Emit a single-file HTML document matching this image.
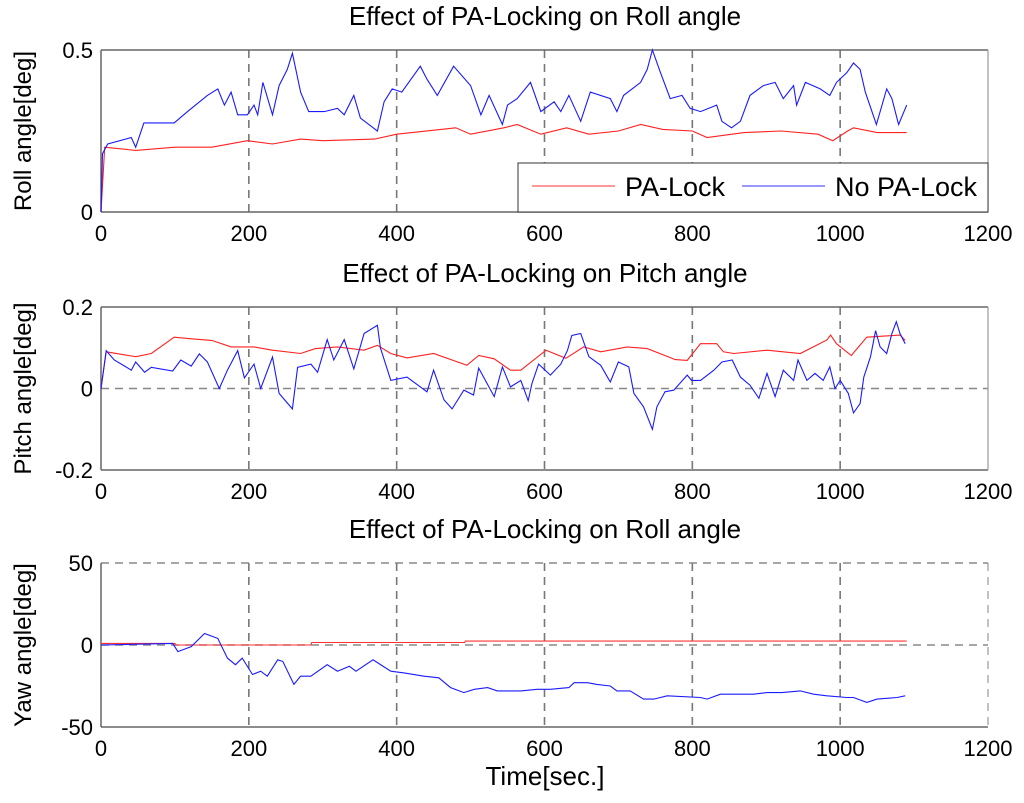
<!DOCTYPE html>
<html><head><meta charset="utf-8"><style>
html,body{margin:0;padding:0;background:#fff;}
svg{display:block;font-family:"Liberation Sans",Arial,sans-serif;}
</style></head><body>
<svg id="fig" width="1024" height="803" viewBox="0 0 1024 803"></svg>
<script>
// ---- data ----
const rollT_blue=[0,2,9,41,47,58,99,117,144,158,167,176,185,198,207,212,219,232,241,252,259,270,281,302,320,329,342,351,374,383,394,407,432,441,455,477,500,514,525,543,550,563,581,595,613,622,633,649,662,689,698,707,730,739,746,757,770,786,797,811,833,840,853,865,878,896,912,923,937,941,953,973,986,995,1009,1018,1027,1034,1049,1063,1070,1079,1090];
const rollV_blue=[0,0.18,0.21,0.23,0.20,0.275,0.275,0.31,0.36,0.38,0.33,0.37,0.30,0.30,0.33,0.30,0.40,0.30,0.39,0.44,0.49,0.37,0.31,0.31,0.32,0.30,0.36,0.29,0.25,0.34,0.38,0.37,0.45,0.41,0.36,0.45,0.39,0.30,0.36,0.27,0.33,0.35,0.40,0.31,0.34,0.31,0.36,0.28,0.37,0.35,0.31,0.36,0.40,0.44,0.50,0.43,0.35,0.36,0.32,0.31,0.33,0.28,0.26,0.28,0.36,0.39,0.40,0.35,0.39,0.33,0.40,0.38,0.36,0.40,0.43,0.46,0.44,0.37,0.27,0.38,0.35,0.27,0.33];
const rollT_red=[0,5,47,100,150,198,232,270,300,370,400,480,500,545,563,595,630,660,700,730,760,800,820,870,920,970,990,1010,1018,1050,1090];
const rollV_red=[0,0.2,0.19,0.2,0.2,0.22,0.21,0.225,0.22,0.225,0.24,0.26,0.24,0.26,0.27,0.24,0.26,0.24,0.25,0.27,0.255,0.25,0.23,0.245,0.25,0.24,0.22,0.25,0.26,0.245,0.245];
const pitchT_blue=[0,7,18,32,41,47,59,68,97,108,122,133,144,160,171,185,194,207,216,232,241,259,266,284,293,306,315,329,342,356,374,378,392,414,441,450,464,475,491,504,511,532,543,554,568,578,583,592,608,622,631,637,649,660,676,689,700,714,721,734,746,752,763,775,793,799,811,829,840,854,865,878,890,901,912,923,937,943,955,966,977,986,993,1000,1011,1018,1027,1032,1041,1048,1054,1063,1070,1076,1081,1088];
const pitchV_blue=[0,0.093,0.07,0.055,0.045,0.065,0.04,0.052,0.043,0.07,0.055,0.085,0.065,0.0,0.045,0.093,0.026,0.06,0.0,0.077,-0.012,-0.05,0.052,0.06,0.04,0.12,0.07,0.12,0.048,0.135,0.155,0.1,0.02,0.028,-0.008,0.045,-0.028,-0.05,-0.004,-0.016,0.05,-0.02,0.053,0.004,0.02,-0.03,0.012,0.06,0.033,0.06,0.093,0.13,0.135,0.078,0.057,0.016,0.065,0.053,-0.012,-0.045,-0.1,-0.045,-0.008,-0.004,0.033,0.02,0.02,0.045,0.065,0.07,0.028,0.008,-0.024,0.037,-0.02,0.045,0.02,0.07,0.02,0.037,0.02,0.053,0.0,0.02,-0.012,-0.06,-0.037,0.028,0.078,0.142,0.102,0.086,0.135,0.164,0.135,0.11];
const pitchT_red=[0,7,47,68,99,122,150,176,207,232,270,290,320,356,374,392,414,450,495,511,532,554,568,602,629,653,676,712,739,777,793,811,833,842,856,901,946,982,987,995,1015,1036,1081,1088];
const pitchV_red=[0,0.09,0.078,0.086,0.126,0.122,0.118,0.102,0.102,0.094,0.086,0.098,0.102,0.094,0.106,0.086,0.075,0.086,0.057,0.081,0.073,0.045,0.045,0.094,0.074,0.102,0.090,0.102,0.098,0.071,0.069,0.110,0.110,0.090,0.086,0.094,0.086,0.119,0.131,0.110,0.081,0.126,0.131,0.118];
const yawT_blue=[0,97,104,122,140,158,171,182,191,205,216,225,239,246,261,270,284,306,320,336,345,368,392,410,437,457,473,491,505,523,536,554,568,590,608,633,640,658,671,689,698,716,734,748,766,811,820,838,883,901,921,946,964,982,1009,1018,1036,1050,1077,1088];
const yawV_blue=[0,1,-4,-1,7,4,-8,-12,-8,-18,-16,-19,-9,-10,-24,-19,-19,-12,-16,-13,-16,-9,-16,-17,-19,-20,-26,-29,-27,-26,-28,-28,-28,-27,-27,-26,-23,-23,-24,-25,-28,-28,-33,-33,-31,-32,-33,-30,-30,-29,-29,-28,-30,-31,-32,-32,-35,-33,-32,-31];
const yawT_red=[0,100,101,284,285,492,493,1090];
const yawV_red=[1,1,0,0,1.5,1.5,2.4,2.4];
const xTicks=[0,200,400,600,800,1000,1200];

const NS="http://www.w3.org/2000/svg";
const svg=document.getElementById('fig');
function mk(tag,attrs,parent){const e=document.createElementNS(NS,tag);for(const k in attrs)e.setAttribute(k,attrs[k]);(parent||svg).appendChild(e);return e;}
const X0=101,X1=988;
function xs(t){return X0+(t/1200)*(X1-X0);}

function panel(p){
  const g=mk('g',{});
  
  
  const ys=v=>p.bot-(v-p.ymin)/(p.ymax-p.ymin)*(p.bot-p.top);
  mk('rect',{x:X0,y:p.top,width:X1-X0,height:p.bot-p.top,fill:'#fff',stroke:'none'},g);
  xTicks.forEach(t=>{if(t>0&&t<1200){const l=mk('line',{x1:xs(t),x2:xs(t),y1:p.top,y2:p.bot,stroke:'#777','stroke-width':1.6,'stroke-dasharray':'8,6'},g);
    }});
  p.hgrid.forEach(v=>{const l=mk('line',{x1:X0,x2:X1,y1:ys(v),y2:ys(v),stroke:'#888','stroke-width':1.4,'stroke-dasharray':'8,6'},g);
    });
  mk('line',{x1:X0,x2:X0,y1:p.top,y2:p.bot,stroke:'#666','stroke-width':1.5},g);
  mk('line',{x1:X0,x2:X1,y1:p.bot,y2:p.bot,stroke:'#666','stroke-width':1.5},g);
  if(!p.dashTop){mk('line',{x1:X0,x2:X1,y1:p.top,y2:p.top,stroke:'#666','stroke-width':1.5},g);}
  mk('line',{x1:X1,x2:X1,y1:p.top,y2:p.bot,stroke:'#999','stroke-width':1.2,'stroke-dasharray':p.dashTop?'8,6':''},g);
  p.series.forEach(s=>{
    const pts=s.t.map((t,i)=>xs(t).toFixed(1)+','+ys(s.v[i]).toFixed(1)).join(' ');
    const pl=mk('polyline',{points:pts,fill:'none',stroke:s.c,'stroke-width':1.1},g);
    
  });
  xTicks.forEach(t=>{const tx=mk('text',{x:xs(t),y:p.bot+29,'text-anchor':'middle','font-size':22,fill:'#000'},g);tx.textContent=t;
    });
  p.yticks.forEach((v,i)=>{const tx=mk('text',{x:93,y:ys(v)+8,'text-anchor':'end','font-size':22,fill:'#000'},g);tx.textContent=p.ylabels[i];
    });
  const ti=mk('text',{x:545,y:p.top-25,'text-anchor':'middle','font-size':26,fill:'#000'},g);ti.textContent=p.title;
  
  const yl=mk('text',{x:0,y:0,'text-anchor':'middle','font-size':24,fill:'#000',transform:`translate(31,${(p.top+p.bot)/2}) rotate(-90)`},g);yl.textContent=p.ylab;
  
  return g;
}
panel({name:'roll-panel',top:50,bot:212,ymin:0,ymax:0.5,hgrid:[],yticks:[0,0.5],ylabels:['0','0.5'],title:'Effect of PA-Locking on Roll angle',ylab:'Roll angle[deg]',
  series:[{t:rollT_red,v:rollV_red,c:'#ff2020',name:'roll-pa-lock-line'},{t:rollT_blue,v:rollV_blue,c:'#1a1aff',name:'roll-no-pa-lock-line'}]});
panel({name:'pitch-panel',top:307,bot:470,ymin:-0.2,ymax:0.2,hgrid:[0],yticks:[-0.2,0,0.2],ylabels:['-0.2','0','0.2'],title:'Effect of PA-Locking on Pitch angle',ylab:'Pitch angle[deg]',
  series:[{t:pitchT_red,v:pitchV_red,c:'#ff2020',name:'pitch-pa-lock-line'},{t:pitchT_blue,v:pitchV_blue,c:'#1a1aff',name:'pitch-no-pa-lock-line'}]});
panel({name:'yaw-panel',top:563,bot:727,ymin:-50,ymax:50,hgrid:[0,50],dashTop:true,yticks:[-50,0,50],ylabels:['-50','0','50'],title:'Effect of PA-Locking on Roll angle',ylab:'Yaw angle[deg]',
  series:[{t:yawT_red,v:yawV_red,c:'#ff3030',name:'yaw-pa-lock-line'},{t:yawT_blue,v:yawV_blue,c:'#1a1aff',name:'yaw-no-pa-lock-line'}]});
const xt=mk('text',{x:545,y:785,'text-anchor':'middle','font-size':26,fill:'#000'});xt.textContent='Time[sec.]';

const lg=mk('g',{});


mk('rect',{x:518,y:163,width:470,height:49,fill:'#fff',stroke:'#333','stroke-width':1},lg);
mk('line',{x1:532,x2:615,y1:186,y2:186,stroke:'#ff3030','stroke-width':1},lg);
const l1=mk('text',{x:625,y:196,'font-size':27,fill:'#000'},lg);l1.textContent='PA-Lock';

mk('line',{x1:742,x2:825,y1:186,y2:186,stroke:'#3030ff','stroke-width':1},lg);
const l2=mk('text',{x:835,y:196,'font-size':27,fill:'#000'},lg);l2.textContent='No PA-Lock';

</script>
</body></html>
